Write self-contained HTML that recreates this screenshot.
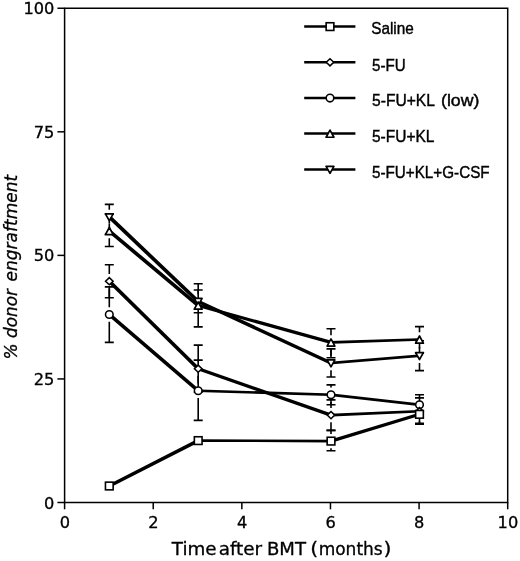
<!DOCTYPE html>
<html lang="en">
<head>
<meta charset="utf-8">
<title>% donor engraftment vs time after BMT</title>
<style>
html,body{margin:0;padding:0;background:#fff;}
body{width:520px;height:561px;overflow:hidden;}
svg{display:block;}
.ax{fill:none;stroke:#000;stroke-width:1.5;}
.tk{stroke:#000;stroke-width:1.5;fill:none;}
.ln{fill:none;stroke:#000;stroke-width:3.2;stroke-linejoin:round;stroke-linecap:butt;}
.pl{fill:#000;stroke:none;}
.eb{stroke:#000;stroke-width:1.6;fill:none;}
.m{fill:#fff;stroke:#000;stroke-width:1.55;stroke-linejoin:miter;}
.tr{stroke-width:1.7;stroke-linejoin:round;}
.lg{stroke:#000;stroke-width:2.5;fill:none;}
.t{font-family:"DejaVu Sans","Liberation Sans",sans-serif;font-size:15px;fill:#000;stroke:#000;stroke-width:0.3;}
.tl{font-family:"DejaVu Sans","Liberation Sans",sans-serif;font-size:17px;fill:#000;stroke:#000;stroke-width:0.3;}
.ti{font-family:"DejaVu Sans","Liberation Sans",sans-serif;font-size:17px;font-style:italic;fill:#000;stroke:#000;stroke-width:0.3;}
.lt{font-family:"Liberation Sans",sans-serif;font-size:15.8px;fill:#000;stroke:#000;stroke-width:0.4;}
</style>
</head>
<body>
<svg width="520" height="561" viewBox="0 0 520 561">
<rect x="0" y="0" width="520" height="561" fill="#fff"/>
<rect x="64.6" y="8.25" width="443.10" height="494.25" class="ax"/>
<line x1="57.40" y1="502.50" x2="64.60" y2="502.50" class="tk"/>
<text transform="translate(54.3 508.60) scale(1.08 1)" text-anchor="end" class="t">0</text>
<line x1="57.40" y1="378.94" x2="64.60" y2="378.94" class="tk"/>
<text transform="translate(54.3 385.04) scale(1.08 1)" text-anchor="end" class="t">25</text>
<line x1="57.40" y1="255.38" x2="64.60" y2="255.38" class="tk"/>
<text transform="translate(54.3 261.48) scale(1.08 1)" text-anchor="end" class="t">50</text>
<line x1="57.40" y1="131.81" x2="64.60" y2="131.81" class="tk"/>
<text transform="translate(54.3 137.91) scale(1.08 1)" text-anchor="end" class="t">75</text>
<line x1="57.40" y1="8.25" x2="64.60" y2="8.25" class="tk"/>
<text transform="translate(54.3 14.35) scale(1.08 1)" text-anchor="end" class="t">100</text>
<line x1="64.60" y1="502.50" x2="64.60" y2="509.30" class="tk"/>
<text transform="translate(64.80 528.2) scale(1.08 1)" text-anchor="middle" class="t">0</text>
<line x1="153.22" y1="502.50" x2="153.22" y2="509.30" class="tk"/>
<text transform="translate(153.42 528.2) scale(1.08 1)" text-anchor="middle" class="t">2</text>
<line x1="241.84" y1="502.50" x2="241.84" y2="509.30" class="tk"/>
<text transform="translate(242.04 528.2) scale(1.08 1)" text-anchor="middle" class="t">4</text>
<line x1="330.46" y1="502.50" x2="330.46" y2="509.30" class="tk"/>
<text transform="translate(330.66 528.2) scale(1.08 1)" text-anchor="middle" class="t">6</text>
<line x1="419.08" y1="502.50" x2="419.08" y2="509.30" class="tk"/>
<text transform="translate(419.28 528.2) scale(1.08 1)" text-anchor="middle" class="t">8</text>
<line x1="507.70" y1="502.50" x2="507.70" y2="509.30" class="tk"/>
<text transform="translate(507.90 528.2) scale(1.08 1)" text-anchor="middle" class="t">10</text>
<text y="555.0" class="tl"><tspan x="171.8" textLength="44.8" lengthAdjust="spacingAndGlyphs">Time</tspan> <tspan x="218.7" textLength="43.45" lengthAdjust="spacingAndGlyphs">after</tspan> <tspan x="266.9" textLength="39.05" lengthAdjust="spacingAndGlyphs">BMT</tspan> <tspan x="310.35" textLength="7.96" lengthAdjust="spacingAndGlyphs">(</tspan><tspan x="318.66" textLength="64.03" lengthAdjust="spacingAndGlyphs">months</tspan><tspan x="383.57" textLength="7.96" lengthAdjust="spacingAndGlyphs">)</tspan></text>
<text transform="translate(16.7 359.3) rotate(-90)" class="ti"><tspan x="-0.2" textLength="16.15" lengthAdjust="spacingAndGlyphs">%</tspan> <tspan x="21.4" textLength="48.8" lengthAdjust="spacingAndGlyphs">donor</tspan> <tspan x="77.9" textLength="106.5" lengthAdjust="spacingAndGlyphs">engraftment</tspan></text>
<g id="errorbars">
<path d="M104.80 204.40H113.80M109.30 204.40V209.70M104.80 234.30H113.80M109.30 224.10V234.30" class="eb"/>
<path d="M193.70 290.00H202.70M198.20 290.00V294.30M193.70 312.80H202.70M198.20 308.70V312.80" class="eb"/>
<path d="M326.50 348.90H335.50M331.00 348.90V355.80M326.50 377.00H335.50M331.00 370.20V377.00" class="eb"/>
<path d="M415.00 340.80H424.00M419.50 340.80V348.50M415.00 370.60H424.00M419.50 362.90V370.60" class="eb"/>
<path d="M104.80 214.30H113.80M109.30 214.30V223.80M104.80 246.50H113.80M109.30 238.20V246.50" class="eb"/>
<path d="M193.70 283.80H202.70M198.20 283.80V298.30M193.70 326.90H202.70M198.20 312.70V326.90" class="eb"/>
<path d="M326.50 328.80H335.50M331.00 328.80V335.20M326.50 357.80H335.50M331.00 349.60V357.80" class="eb"/>
<path d="M415.00 326.60H424.00M419.50 326.60V332.30M415.00 353.00H424.00M419.50 346.70V353.00" class="eb"/>
<path d="M104.80 286.90H113.80M109.30 286.90V307.30M104.80 342.40H113.80M109.30 321.70V342.40" class="eb"/>
<path d="M193.70 360.10H202.70M198.20 360.10V383.55M193.70 420.40H202.70M198.20 397.95V420.40" class="eb"/>
<path d="M326.50 384.90H335.50M331.00 384.90V387.50M326.50 404.70H335.50M331.00 401.90V404.70" class="eb"/>
<path d="M415.00 394.80H424.00M419.50 394.80V397.60M415.00 414.80H424.00M419.50 412.00V414.80" class="eb"/>
<path d="M104.80 264.80H113.80M109.30 264.80V274.00M104.80 297.80H113.80M109.30 288.40V297.80" class="eb"/>
<path d="M193.70 345.10H202.70M198.20 345.10V361.50M193.70 392.30H202.70M198.20 375.90V392.30" class="eb"/>
<path d="M326.50 399.90H335.50M331.00 399.90V407.90M326.50 430.40H335.50M331.00 422.30V430.40" class="eb"/>
<path d="M415.00 397.90H424.00M419.50 397.90V404.00M415.00 424.30H424.00M419.50 418.40V424.30" class="eb"/>
<path d="M326.50 430.40H335.50M331.00 430.40V433.90M326.50 450.70H335.50M331.00 448.30V450.70" class="eb"/>
<path d="M415.00 405.00H424.00M419.50 405.00V407.10M415.00 423.40H424.00M419.50 421.50V423.40" class="eb"/>
</g>
<g id="lines">
<g id="line-dn"><polygon points="108.00,215.60 110.60,215.60 199.50,300.20 199.50,302.80 196.90,302.80 108.00,218.20" class="pl"/><polygon points="196.90,300.20 199.50,300.20 332.30,361.70 332.30,364.30 329.70,364.30 196.90,302.80" class="pl"/><polygon points="329.70,361.70 418.20,354.40 420.80,354.40 420.80,357.00 332.30,364.30 329.70,364.30" class="pl"/></g>
<g id="line-up"><polygon points="108.00,229.70 110.60,229.70 199.50,304.20 199.50,306.80 196.90,306.80 108.00,232.30" class="pl"/><polygon points="196.90,304.20 199.50,304.20 332.30,341.10 332.30,343.70 329.70,343.70 196.90,306.80" class="pl"/><polygon points="329.70,341.10 418.20,338.20 420.80,338.20 420.80,340.80 332.30,343.70 329.70,343.70" class="pl"/></g>
<g id="line-ci"><polygon points="108.00,313.20 110.60,313.20 199.50,389.45 199.50,392.05 196.90,392.05 108.00,315.80" class="pl"/><polygon points="196.90,389.45 199.50,389.45 332.30,393.40 332.30,396.00 329.70,396.00 196.90,392.05" class="pl"/><polygon points="329.70,393.40 332.30,393.40 420.80,403.50 420.80,406.10 418.20,406.10 329.70,396.00" class="pl"/></g>
<g id="line-di"><polygon points="108.00,279.90 110.60,279.90 199.50,367.40 199.50,370.00 196.90,370.00 108.00,282.50" class="pl"/><polygon points="196.90,367.40 199.50,367.40 332.30,413.80 332.30,416.40 329.70,416.40 196.90,370.00" class="pl"/><polygon points="329.70,413.80 418.20,409.90 420.80,409.90 420.80,412.50 332.30,416.40 329.70,416.40" class="pl"/></g>
<g id="line-sq"><polygon points="108.00,484.70 196.90,439.30 199.50,439.30 199.50,441.90 110.60,487.30 108.00,487.30" class="pl"/><polygon points="196.90,439.30 199.50,439.30 332.30,439.80 332.30,442.40 329.70,442.40 196.90,441.90" class="pl"/><polygon points="329.70,439.80 418.20,413.00 420.80,413.00 420.80,415.60 332.30,442.40 329.70,442.40" class="pl"/></g>
</g>
<g id="markers">
<path d="M109.30 220.70L113.20 213.80L105.40 213.80Z" class="m tr"/>
<path d="M198.20 305.30L202.10 298.40L194.30 298.40Z" class="m tr"/>
<path d="M331.00 366.80L334.90 359.90L327.10 359.90Z" class="m tr"/>
<path d="M419.50 359.50L423.40 352.60L415.60 352.60Z" class="m tr"/>
<path d="M109.30 227.50L113.20 234.65L105.40 234.65Z" class="m tr"/>
<path d="M198.20 302.00L202.10 309.15L194.30 309.15Z" class="m tr"/>
<path d="M331.00 338.90L334.90 346.05L327.10 346.05Z" class="m tr"/>
<path d="M419.50 336.00L423.40 343.15L415.60 343.15Z" class="m tr"/>
<circle cx="109.30" cy="314.50" r="3.8" class="m"/>
<circle cx="198.20" cy="390.75" r="3.8" class="m"/>
<circle cx="331.00" cy="394.70" r="3.8" class="m"/>
<circle cx="419.50" cy="404.80" r="3.8" class="m"/>
<path d="M105.55 281.20L109.30 277.60L113.05 281.20L109.30 284.80Z" class="m"/>
<path d="M194.45 368.70L198.20 365.10L201.95 368.70L198.20 372.30Z" class="m"/>
<path d="M327.25 415.10L331.00 411.50L334.75 415.10L331.00 418.70Z" class="m"/>
<path d="M415.75 411.20L419.50 407.60L423.25 411.20L419.50 414.80Z" class="m"/>
<rect x="105.45" y="482.15" width="7.70" height="7.70" class="m" style="stroke-width:1.6"/>
<rect x="194.35" y="436.75" width="7.70" height="7.70" class="m" style="stroke-width:1.6"/>
<rect x="327.15" y="437.25" width="7.70" height="7.70" class="m" style="stroke-width:1.6"/>
<rect x="415.65" y="410.45" width="7.70" height="7.70" class="m" style="stroke-width:1.6"/>
</g>
<line x1="304.2" y1="26.6" x2="355.4" y2="26.6" class="lg"/>
<rect x="326.15" y="22.75" width="7.70" height="7.70" class="m" style="stroke-width:1.6"/>
<text x="371.2" y="34.30" class="lt" textLength="42.6" lengthAdjust="spacingAndGlyphs">Saline</text>
<line x1="304.2" y1="62.3" x2="355.4" y2="62.3" class="lg"/>
<path d="M326.25 62.30L330.00 58.70L333.75 62.30L330.00 65.90Z" class="m"/>
<text x="372.0" y="70.75" class="lt" textLength="33.6" lengthAdjust="spacingAndGlyphs">5-FU</text>
<line x1="304.2" y1="98.1" x2="355.4" y2="98.1" class="lg"/>
<circle cx="330.00" cy="98.10" r="3.8" class="m"/>
<text y="106.25" class="lt"><tspan x="372.0" textLength="62.4" lengthAdjust="spacingAndGlyphs">5-FU+KL</tspan> <tspan x="441.0" textLength="38.3" lengthAdjust="spacingAndGlyphs">(low)</tspan></text>
<line x1="304.2" y1="133.6" x2="355.4" y2="133.6" class="lg"/>
<path d="M330.00 130.10L333.90 137.25L326.10 137.25Z" class="m tr"/>
<text x="372.0" y="141.75" class="lt" textLength="62.4" lengthAdjust="spacingAndGlyphs">5-FU+KL</text>
<line x1="304.2" y1="169.5" x2="355.4" y2="169.5" class="lg"/>
<path d="M330.00 173.30L333.90 166.40L326.10 166.40Z" class="m tr"/>
<text x="372.0" y="177.50" class="lt" textLength="117.6" lengthAdjust="spacingAndGlyphs">5-FU+KL+G-CSF</text>
</svg>
</body>
</html>
